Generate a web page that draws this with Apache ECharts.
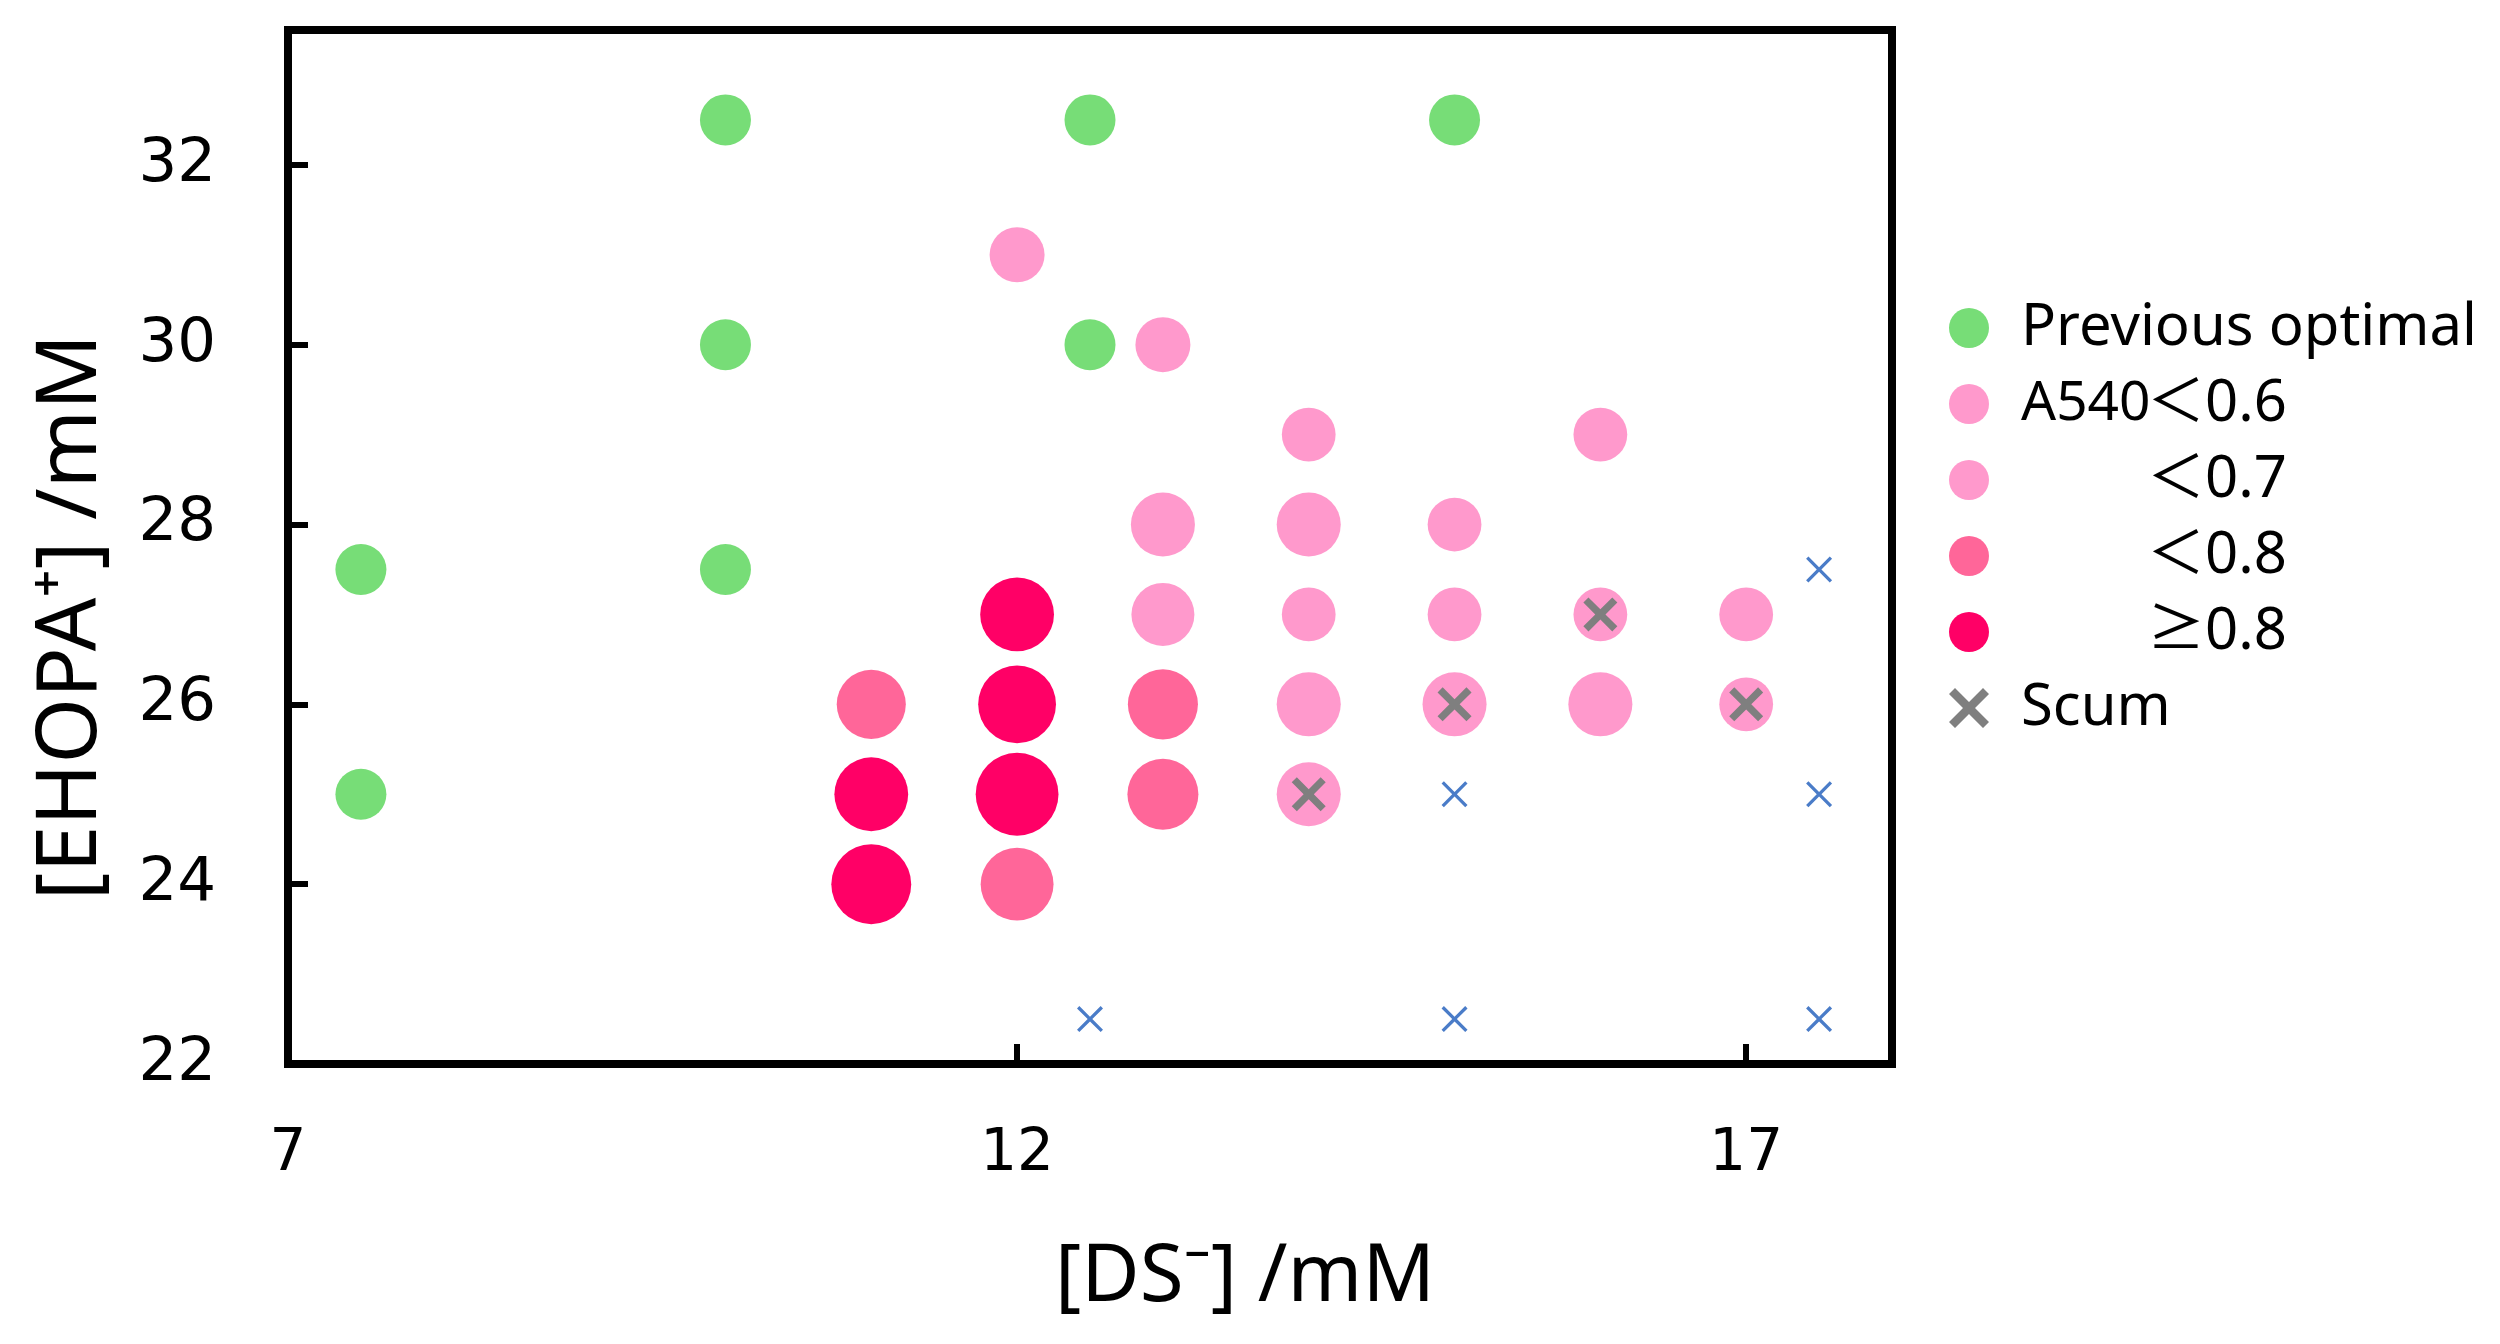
<!DOCTYPE html>
<html>
<head>
<meta charset="utf-8">
<title>A540 scan</title>
<script src="https://cdn.jsdelivr.net/npm/echarts@6.0.0/dist/echarts.min.js"></script>
<style>
  html, body { margin: 0; padding: 0; background: #fff; }
  #chart { width: 2500px; height: 1344px; }
</style>
</head>
<body>
<div id="chart"></div>
<script>
// [DS-] mM, [EHOPA+] mM
var prevOptimal = [[7.5, 27.5], [7.5, 25], [10, 32.5], [10, 30], [10, 27.5], [12.5, 32.5], [12.5, 30], [15, 32.5]];

// [DS-] mM, [EHOPA+] mM, A540
var samples = [
  [12, 31, 0.45], [13, 30, 0.45], [14, 29, 0.43], [16, 29, 0.43],
  [13, 28, 0.61], [14, 28, 0.61], [15, 28, 0.43],
  [12, 27, 0.81], [13, 27, 0.59], [14, 27, 0.43], [15, 27, 0.43], [16, 27, 0.43], [17, 27, 0.43],
  [11, 26, 0.71], [12, 26, 0.90], [13, 26, 0.73], [14, 26, 0.61], [15, 26, 0.61], [16, 26, 0.61], [17, 26, 0.43],
  [11, 25, 0.81], [12, 25, 1.02], [13, 25, 0.75], [14, 25, 0.61],
  [11, 24, 0.95], [12, 24, 0.79]
];

// scum formed
var scum = [[14, 25], [15, 26], [16, 27], [17, 26]];

// blue crosses
var blank = [[17.5, 27.5], [15, 25], [17.5, 25], [12.5, 22.5], [15, 22.5], [17.5, 22.5]];

var xTicks = [7, 12, 17];
var yTicks = [22, 24, 26, 28, 30, 32];

var groups = [
  {name: 'A540 ＜0.6', lo: -Infinity, hi: 0.6, color: '#FF99CC'},
  {name: '＜0.7', lo: 0.6, hi: 0.7, color: '#FF99CC'},
  {name: '＜0.8', lo: 0.7, hi: 0.8, color: '#FF6699'},
  {name: '≥0.8', lo: 0.8, hi: Infinity, color: '#FF0066'}
];

var xThick = 'path://M1.5,0 L5,3.5 L8.5,0 L10,1.5 L6.5,5 L10,8.5 L8.5,10 L5,6.5 L1.5,10 L0,8.5 L3.5,5 L0,1.5 Z';
var xThin = 'path://M0.9,0 L5,4.1 L9.1,0 L10,0.9 L5.9,5 L10,9.1 L9.1,10 L5,5.9 L0.9,10 L0,9.1 L4.1,5 L0,0.9 Z';

var series = [];
series.push({
  name: 'Previous optimal',
  type: 'scatter',
  symbol: 'circle',
  symbolSize: 51,
  itemStyle: {color: '#77DD77', opacity: 1},
  data: prevOptimal,
  z: 2
});
groups.forEach(function (g) {
  series.push({
    name: g.name,
    type: 'scatter',
    symbol: 'circle',
    symbolSize: function (v) { return 82 * Math.sqrt(v[2]); },
    itemStyle: {color: g.color, opacity: 1},
    data: samples.filter(function (d) { return d[2] >= g.lo && d[2] < g.hi; }),
    z: 2
  });
});
series.push({
  name: 'Scum',
  type: 'scatter',
  symbol: xThick,
  symbolSize: 34,
  itemStyle: {color: '#7F7F7F', opacity: 1},
  data: scum,
  z: 5
});
series.push({
  name: 'blank',
  type: 'scatter',
  symbol: xThin,
  symbolSize: 26,
  itemStyle: {color: '#4A7CC8', opacity: 1},
  data: blank,
  z: 4
});

var option = {
  backgroundColor: '#fff',
  animation: false,
  grid: {
    left: 288, top: 30, right: 608, bottom: 280,
    show: true, borderColor: '#000', borderWidth: 8,
    containLabel: false
  },
  xAxis: {
    type: 'value',
    min: 7, max: 18, interval: 5,
    splitLine: {show: false},
    axisLine: {show: true, onZero: false, lineStyle: {color: '#000', width: 8}},
    axisTick: {show: true, inside: true, length: 20, lineStyle: {color: '#000', width: 6}},
    axisLabel: {
      margin: 62, color: '#000', fontSize: 58, fontFamily: 'DejaVu Sans',
      formatter: function (v) { return xTicks.indexOf(v) >= 0 ? String(v) : ''; }
    },
    name: '[DS⁻] /mM',
    nameLocation: 'middle',
    nameGap: 174,
    nameTextStyle: {color: '#000', fontSize: 80, fontFamily: 'Noto Sans', padding: [0, 0, 0, 310]}
  },
  yAxis: {
    type: 'value',
    min: 22, max: 33.5, interval: 2,
    splitLine: {show: false},
    axisLine: {show: true, onZero: false, lineStyle: {color: '#000', width: 8}},
    axisTick: {show: true, inside: true, length: 20, lineStyle: {color: '#000', width: 6}},
    axisLabel: {
      margin: 72, color: '#000', fontSize: 61, fontFamily: 'DejaVu Sans',
      formatter: function (v) { return yTicks.indexOf(v) >= 0 ? String(v) : ''; }
    },
    name: '[EHOPA⁺] /mM',
    nameLocation: 'middle',
    nameGap: 174,
    nameTextStyle: {color: '#000', fontSize: 84, fontFamily: 'Noto Sans', padding: [0, 140, 0, 0]}
  },
  legend: {
    orient: 'vertical',
    left: 1944,
    top: 294,
    itemWidth: 40,
    itemHeight: 40,
    itemGap: 18,
    selectedMode: false,
    data: ['Previous optimal'].concat(groups.map(function (g) { return g.name; })).concat([
      {name: 'Scum', icon: xThick, itemStyle: {color: '#7F7F7F'}}
    ]),
    formatter: function (name) {
      if (name.indexOf('A540') === 0) return '{pre|A540}' + name.slice(5);
      if (name.charAt(0) === '＜' || name.charAt(0) === '≥') return '{pre|}' + name;
      return name;
    },
    textStyle: {
      color: '#000', fontSize: 58, fontFamily: 'Noto Sans, Noto Sans CJK JP',
      lineHeight: 40, padding: [0, 0, 0, 27],
      rich: {
        pre: {width: 126, fontSize: 55, lineHeight: 40, color: '#000', fontFamily: 'Noto Sans'}
      }
    }
  },
  series: series
};

var chart = echarts.init(document.getElementById('chart'));
chart.setOption(option);
</script>
</body>
</html>
